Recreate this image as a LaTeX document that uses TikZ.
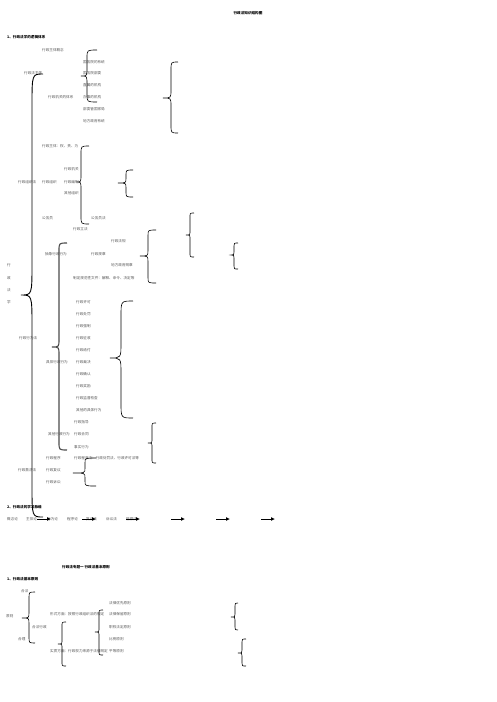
\documentclass[tikz,border=0pt]{standalone}
\usepackage{fontspec}
\setmainfont{Noto Sans CJK SC}
\usetikzlibrary{arrows.meta}
\tikzset{
  txt/.style={anchor=west, inner sep=0pt, font=\fontsize{3.6}{4}\selectfont, text=black!65},
  hd/.style={anchor=west, inner sep=0pt, font=\fontsize{3.6}{4}\selectfont\bfseries, text=black},
  brc/.style={line width=0.6pt, black},
  bigbrc/.style={line width=0.9pt, black},
  arr/.style={line width=0.9pt, black, -{Latex[length=4pt,width=4pt]}}
}
% xv, ytop, ytip, ybottom, tip depth, end curl, curl height
\newcommand{\cbr}[8][brc]{%
  \draw[#1] ({#2+#7},#3) .. controls (#2,#3) .. (#2,{#3+#8}) -- (#2,{#4-#8})
    .. controls (#2,#4) .. ({#2-#6},#4) .. controls (#2,#4) .. (#2,{#4+#8})
    -- (#2,{#5-#8}) .. controls (#2,#5) .. ({#2+#7},#5);}
\begin{document}
\begin{tikzpicture}[x=1pt,y=-1pt]
\useasboundingbox (0,0) rectangle (496,702);
\fill[white] (0,0) rectangle (496,702);

% ---------- page 1 ----------
\node[hd, anchor=center] (title) at (248,13) {行政法知识结构图};
\node[hd] (s1) at (7,37) {1、行政法学的逻辑体系};

\node[txt] (a1) at (42,50) {行政主体概念};
\node[txt] (a2) at (24,73) {行政法主体};
\node[txt] (a3) at (48,97) {行政机关的体系};
\node[txt] (b1) at (83,62) {国务院的系统};
\node[txt] (b2) at (83,73) {国务院部委};
\node[txt] (b3) at (83,85) {直属的机构};
\node[txt] (b4) at (83,97) {办事的机构};
\node[txt] (b5) at (83,109) {部委管国家局};
\node[txt] (b6) at (83,121) {地方政府系统};

\node[txt] (c1) at (42,146) {行政主体：权、责、为};
\node[txt] (c2) at (64,169) {行政机关};
\node[txt] (c3) at (18,182) {行政组织法};
\node[txt] (c4) at (42,182) {行政组织};
\node[txt] (c5) at (64,182) {行政编制};
\node[txt] (c6) at (64,193) {其他组织};
\node[txt] (c7) at (42,218) {公务员};
\node[txt] (c8) at (91,218) {公务员法};
\node[txt] (c9) at (73,229) {行政立法};
\node[txt] (c10) at (111,241) {行政法规};
\node[txt] (c11) at (45,254) {抽象行政行为};
\node[txt] (c12) at (91,254) {行政规章};
\node[txt] (c13) at (111,265) {地方政府规章};
\node[txt] (c14) at (73,278) {制定规范性文件：解释、命令、决定等};

\node[txt] (v1) at (7,265) {行};
\node[txt] (v2) at (7,278) {政};
\node[txt] (v3) at (7,290) {法};
\node[txt] (v4) at (7,302) {学};

\node[txt] (d1) at (76,302) {行政许可};
\node[txt] (d2) at (76,314) {行政处罚};
\node[txt] (d3) at (76,326) {行政强制};
\node[txt] (d4) at (76,338) {行政征收};
\node[txt] (d5) at (76,350) {行政给付};
\node[txt] (d6) at (76,362) {行政裁决};
\node[txt] (d7) at (76,374) {行政确认};
\node[txt] (d8) at (76,386) {行政奖励};
\node[txt] (d9) at (76,398) {行政监督检查};
\node[txt] (d10) at (76,410) {其他的具体行为};
\node[txt] (e1) at (19,338) {行政行为法};
\node[txt] (e2) at (46,362) {具体行政行为};

\node[txt] (f1) at (74,422) {行政指导};
\node[txt] (f2) at (48,434) {其他行政行为};
\node[txt] (f3) at (74,434) {行政合同};
\node[txt] (f4) at (74,447) {事实行为};
\node[txt] (f5) at (46,458) {行政程序};
\node[txt] (f6) at (74,458) {行政程序法：行政处罚法、行政许可法等};
\node[txt] (g1) at (18,470) {行政救济法};
\node[txt] (g2) at (46,470) {行政复议};
\node[txt] (g3) at (46,482) {行政诉讼};

% braces
\cbr{87}{50}{76}{102}{6}{10}{8}
\cbr{171}{62}{98}{133}{8}{7}{8}
\cbr[bigbrc]{32}{74}{295}{517}{11}{11}{32}
\cbr{81}{146}{182}{224}{4}{8}{8}
\cbr{126}{170}{183}{197}{8}{7}{5}
\cbr{148}{230}{256}{283}{8}{8}{6}
\cbr{190}{213}{235}{257}{4}{4}{4}
\cbr{234}{243}{255}{269}{3}{4}{3}
\cbr[{line width=1.1pt, black!70}]{59}{243}{347}{450}{7}{8}{8}
\cbr{121}{301}{358}{418}{11}{12}{15}
\cbr{152}{423}{443}{463}{4}{4}{4}
\cbr{85}{458}{473}{486}{12}{11}{5}

% ---------- section 2 ----------
\node[hd] (s2) at (7,507) {2、行政法的学习脉络};
\node[txt] (r1) at (7,519) {概念论};
\node[txt] (r2) at (26,519) {主体论};
\node[txt] (r3) at (47,519) {行为论};
\node[txt] (r4) at (67,519) {程序论};
\node[txt] (r5) at (86,519) {复议法};
\node[txt] (r6) at (106,519) {诉讼法};
\node[txt] (r7) at (126,519) {赔偿法};
\foreach \i/\xa in {1/37,2/82,3/126,4/171,5/216,6/261}{
  \coordinate (p\i) at (\xa,519);
  \coordinate (q\i) at (\xa+14,519);
  \draw[arr] (p\i) -- (q\i);
}

% ---------- page 2 ----------
\node[hd, anchor=center] (title2) at (86,567) {行政法专题一\ 行政法基本原则};
\node[hd] (s3) at (7,579) {1、行政法基本原则};
\node[txt] (h1) at (21,591) {合法};
\node[txt] (h2) at (6,616) {原则};
\node[txt] (h3) at (32,627) {合法行政};
\node[txt] (h4) at (18,639) {合理};
\node[txt] (h5) at (50,614) {形式方面：按照行政组织法的规定};
\node[txt] (h6) at (50,651) {实质方面：行政权力来源于法律规定};
\node[txt] (k1) at (109,603) {法律优先原则};
\node[txt] (k2) at (109,614) {法律保留原则};
\node[txt] (k3) at (109,627) {职权法定原则};
\node[txt] (k4) at (109,639) {比例原则};
\node[txt] (k5) at (109,651) {平等原则};

\cbr{29}{592}{618}{643}{7}{6}{6}
\cbr{62}{622}{644}{666}{4}{4}{4}
\cbr{99}{610}{632}{655}{4}{4}{4}
\cbr{235}{603}{617}{630}{4}{3}{3}
\cbr{242}{639}{653}{666}{4}{4}{3}
\end{tikzpicture}
\end{document}
